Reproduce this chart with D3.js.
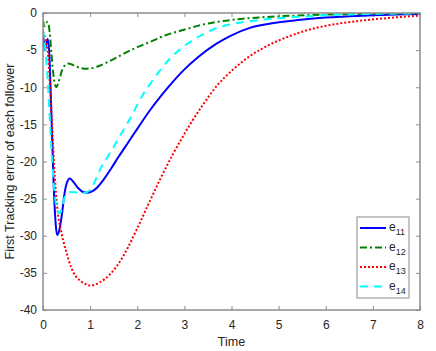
<!DOCTYPE html>
<meta charset="utf-8">
<style>
    body { margin: 0; background: #fff; }
    svg { font-family: "Liberation Sans", Arial, sans-serif; }
    .axis text { fill: #262626; font-size: 12px; }
    .axis path, .axis line { stroke: #8c8c8c; }
    .frame { fill: none; stroke: #8c8c8c; stroke-width: 1.5; }
    .label { fill: #262626; font-size: 12.5px; }
    .legend rect { fill: #fff; stroke: #8c8c8c; }
    .legend text { fill: #262626; font-size: 12px; }
</style>
<body>
<script src="https://d3js.org/d3.v7.min.js"></script>
<script>

    // time samples and error values
    var t11 = [0, 0.04, 0.08, 0.1, 0.13, 0.17, 0.22, 0.27, 0.3, 0.34, 0.4, 0.45, 0.5, 0.57, 0.65, 0.75, 0.85, 0.95, 1.05, 1.15, 1.28, 1.45, 1.6, 1.8, 2.0, 2.27, 2.5, 2.75, 2.97, 3.3, 3.69, 4.0, 4.39, 4.9, 5.46, 6.0, 6.5, 7.0, 7.5, 8.0];
    var e11 = [-2.8, -5, -3.8, -3.5, -5, -12, -22, -28.5, -29.9, -29.4, -27.2, -24.6, -23.0, -22.3, -22.8, -23.6, -24.1, -24.2, -24.0, -23.5, -22.5, -20.9, -19.4, -17.5, -15.6, -13.1, -11.2, -9.3, -7.8, -5.9, -4.1, -3.0, -2.0, -1.35, -0.9, -0.6, -0.45, -0.3, -0.2, -0.12];

    var t12 = [0, 0.03, 0.06, 0.1, 0.14, 0.18, 0.23, 0.28, 0.33, 0.4, 0.47, 0.53, 0.6, 0.7, 0.8, 0.93, 1.05, 1.2, 1.5, 1.8, 2.0, 2.27, 2.6, 2.97, 3.3, 3.69, 4.2, 4.7, 5.1, 6.0, 7.0, 8.0];
    var e12 = [-1.0, -1.8, -1.4, -1.2, -2.5, -5.5, -8.8, -10.0, -9.3, -7.8, -7.0, -6.8, -6.9, -7.2, -7.4, -7.5, -7.4, -7.1, -6.2, -5.2, -4.6, -3.9, -3.0, -2.3, -1.7, -1.2, -0.8, -0.55, -0.42, -0.22, -0.1, -0.05];

    var t13 = [0, 0.05, 0.1, 0.15, 0.2, 0.25, 0.3, 0.4, 0.5, 0.6, 0.7, 0.8, 0.9, 1.0, 1.1, 1.2, 1.42, 1.6, 1.8, 2.0, 2.27, 2.5, 2.75, 3.0, 3.16, 3.4, 3.69, 4.0, 4.39, 4.8, 5.24, 5.8, 6.3, 6.8, 7.37, 8.0];
    var e13 = [-2.5, -3.5, -5, -10, -16, -22, -26, -29.8, -32.3, -34.3, -35.5, -36.1, -36.5, -36.7, -36.6, -36.3, -35.2, -33.8, -31.6, -29.0, -25.3, -22.2, -19.1, -16.3, -14.6, -12.3, -9.8, -7.8, -5.8, -4.3, -3.1, -2.0, -1.4, -1.0, -0.65, -0.35];

    var t14 = [0, 0.05, 0.1, 0.15, 0.2, 0.25, 0.3, 0.36, 0.4, 0.45, 0.5, 0.6, 0.75, 0.9, 1.0, 1.1, 1.21, 1.38, 1.63, 1.85, 2.12, 2.27, 2.5, 2.7, 2.97, 3.3, 3.69, 4.0, 4.39, 4.9, 5.46, 6.0, 7.0, 8.0];
    var e14 = [-2.2, -5, -9, -15, -20.5, -24.5, -26.5, -27.0, -26.3, -25.0, -24.3, -24.1, -24.2, -24.2, -23.8, -22.7, -21.1, -19.3, -16.6, -14.2, -11.0, -9.6, -7.6, -6.1, -4.6, -3.2, -2.0, -1.5, -1.1, -0.75, -0.5, -0.3, -0.12, -0.05];

    var names = ["11", "12", "13", "14"];
    var colors = ["#0000ff", "#008000", "#ff0000", "#00ffff"];
    var dashes = [null, "7,3,2,3", "2,2", "8,6"];

    var xTicks = [0, 1, 2, 3, 4, 5, 6, 7, 8];
    var yTicks = [0, -5, -10, -15, -20, -25, -30, -35, -40];

    var margin = {top: 13, right: 16, bottom: 41, left: 43},
        width = 436, height = 351,
        plotW = width - margin.left - margin.right,
        plotH = height - margin.top - margin.bottom;

    var x = d3.scaleLinear().domain([0, 8]).range([0, plotW]);
    var y = d3.scaleLinear().domain([-40, 0]).range([plotH, 0]);

    var svg = d3.select("body").append("svg")
        .attr("width", width)
        .attr("height", height);

    var g = svg.append("g")
        .attr("transform", "translate(" + margin.left + "," + margin.top + ")");

    g.append("defs").append("clipPath")
        .attr("id", "plotClip")
        .append("rect")
            .attr("width", plotW)
            .attr("height", plotH);

    var xAxis = d3.axisBottom(x).tickValues(xTicks).tickSize(-4).tickPadding(10).tickFormat(d3.format("d"));
    var yAxis = d3.axisLeft(y).tickValues(yTicks).tickSize(-4).tickPadding(6).tickFormat(d => d3.format("d")(d).replace("−", "-"));
    var xTop = d3.axisTop(x).tickValues(xTicks).tickSize(-4).tickFormat("");
    var yRight = d3.axisRight(y).tickValues(yTicks).tickSize(-4).tickFormat("");

    g.append("g").attr("class", "x axis")
        .attr("transform", "translate(0," + plotH + ")")
        .call(xAxis);
    g.append("g").attr("class", "y axis").call(yAxis);
    g.append("g").attr("class", "axis").call(xTop);
    g.append("g").attr("class", "axis")
        .attr("transform", "translate(" + plotW + ",0)")
        .call(yRight);
    g.selectAll(".axis path").remove();

    var series = [[t11, e11], [t12, e12], [t13, e13], [t14, e14]];

    var line = d3.line()
        .x(d => x(d[0]))
        .y(d => y(d[1]))
        .curve(d3.curveMonotoneX);

    series.forEach(function(s, i) {
        var pts = s[0].map((tv, j) => [tv, s[1][j]]);
        g.append("path")
            .datum(pts)
            .attr("clip-path", "url(#plotClip)")
            .attr("fill", "none")
            .attr("stroke", colors[i])
            .attr("stroke-width", 2)
            .attr("stroke-dasharray", dashes[i])
            .attr("d", line);
    });

    g.append("rect")
        .attr("class", "frame")
        .attr("width", plotW)
        .attr("height", plotH);

    // axis labels
    g.append("text")
        .attr("class", "label")
        .attr("x", plotW / 2)
        .attr("y", plotH + 36)
        .attr("text-anchor", "middle")
        .text("Time");

    g.append("text")
        .attr("class", "label")
        .attr("transform", "translate(" + (-29) + "," + (plotH / 2) + ") rotate(-90)")
        .attr("text-anchor", "middle")
        .text("First Tracking error of each follower");

    // legend
    var legend = g.append("g")
        .attr("class", "legend")
        .attr("transform", "translate(" + (357 - margin.left) + "," + (217 - margin.top) + ")");

    legend.append("rect")
        .attr("width", 52)
        .attr("height", 81);

    names.forEach(function(n, i) {
        var ly = 11 + i * 19.5;
        legend.append("line")
            .attr("x1", 3).attr("x2", 29)
            .attr("y1", ly).attr("y2", ly)
            .attr("stroke", colors[i])
            .attr("stroke-width", 2)
            .attr("stroke-dasharray", dashes[i]);
        var tx = legend.append("text")
            .attr("x", 32)
            .attr("y", ly + 3);
        tx.append("tspan").text("e");
        tx.append("tspan").attr("dy", 4).style("font-size", "9px").text(n);
    });

</script>
</body>
